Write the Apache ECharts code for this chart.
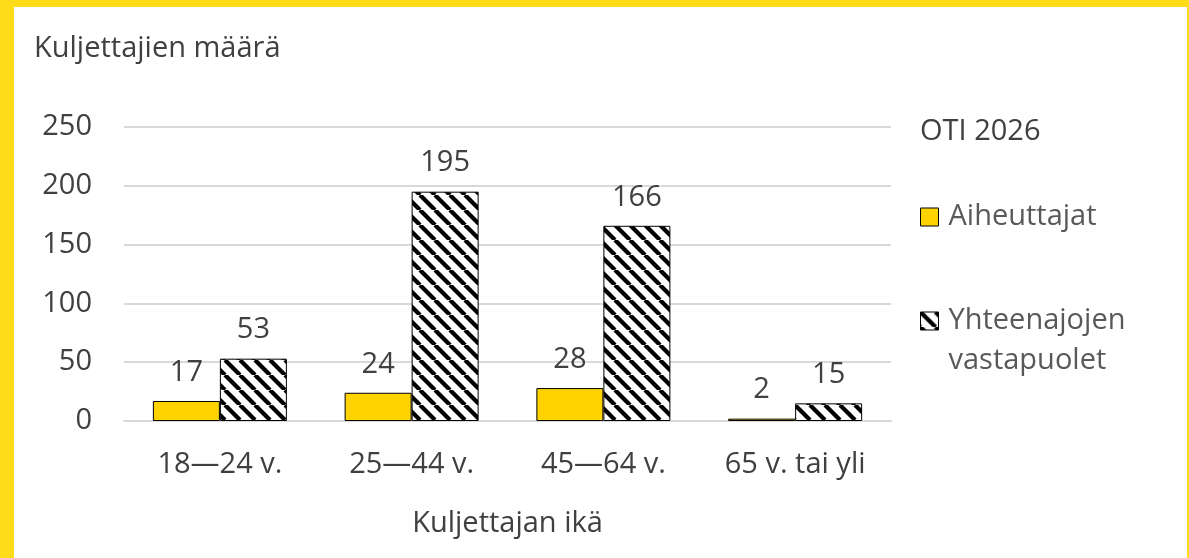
<!DOCTYPE html>
<html><head><meta charset="utf-8">
<script src="https://cdn.jsdelivr.net/npm/echarts@6/dist/echarts.min.js"></script>
<style>html,body{margin:0;padding:0;background:#fff;}#c{width:1189px;height:558px;}</style>
</head><body><div id="c"></div>
<script>
const categories = ['18—24 v.', '25—44 v.', '45—64 v.', '65 v. tai yli'];
const aiheuttajat = [17, 24, 28, 2];
const vastapuolet = [53, 195, 166, 15];
const yTicks = [0, 50, 100, 150, 200, 250];
const seriesNames = ['Aiheuttajat', 'Yhteenajojen vastapuolet'];

const FONT = '"Open Sans", "Noto Sans", sans-serif';
const TXT = '#404040';
const FS = 29;

function hatch() {
  const s = 15;
  const cv = document.createElement('canvas');
  cv.width = s; cv.height = s;
  const g = cv.getContext('2d');
  g.fillStyle = '#fff'; g.fillRect(0, 0, s, s);
  g.strokeStyle = '#000'; g.lineWidth = 4.2;
  for (const k of [-s, 0, s]) {
    g.beginPath(); g.moveTo(k, 0); g.lineTo(k + s, s); g.stroke();
  }
  return cv;
}

const chart = echarts.init(document.getElementById('c'));
chart.setOption({
  animation: false,
  backgroundColor: '#fff',
  textStyle: { fontFamily: FONT },
  graphic: [
    { type: 'rect', shape: { x: 0, y: 0, width: 14, height: 558 }, style: { fill: '#FEDC1A' } },
    { type: 'rect', shape: { x: 0, y: 0, width: 1189, height: 7 }, style: { fill: '#FEDC1A' } },
    { type: 'rect', shape: { x: 1187, y: 0, width: 2, height: 558 }, style: { fill: '#FEDC1A' } }
  ],
  title: [
    { text: 'Kuljettajien määrä', left: 34, top: 29, padding: 0,
      textStyle: { fontFamily: FONT, fontSize: FS, fontWeight: 'normal', color: TXT, lineHeight: 40 } },
    { text: 'OTI 2026', left: 920, top: 112, padding: 0,
      textStyle: { fontFamily: FONT, fontSize: FS, fontWeight: 'normal', color: TXT, lineHeight: 40 } }
  ],
  legend: [
    { data: [seriesNames[0]],
      left: 920, top: 197, padding: 0, itemWidth: 18, itemHeight: 18, icon: 'rect',
      itemStyle: { borderColor: '#000', borderWidth: 1 },
      textStyle: { fontFamily: FONT, fontSize: FS, color: '#595959', lineHeight: 40, padding: [0, 0, 0, 5] } },
    { data: [seriesNames[1]],
      formatter: () => '\nYhteenajojen\nvastapuolet',
      left: 920, top: 261, padding: 0, itemWidth: 18, itemHeight: 18, icon: 'rect',
      itemStyle: { borderColor: '#000', borderWidth: 1 },
      textStyle: { fontFamily: FONT, fontSize: FS, color: '#595959', lineHeight: 40, padding: [0, 0, 0, 5] } }
  ],
  grid: { left: 124, right: 298, top: 127, bottom: 137, containLabel: false },
  xAxis: {
    type: 'category', data: categories,
    name: 'Kuljettajan ikä', nameLocation: 'middle', nameGap: 88,
    nameTextStyle: { fontFamily: FONT, fontSize: FS, color: TXT },
    axisLine: { lineStyle: { color: '#d9d9d9', width: 2 } },
    axisTick: { show: false },
    axisLabel: { fontFamily: FONT, fontSize: FS, color: TXT, margin: 29 }
  },
  yAxis: {
    type: 'value', min: yTicks[0], max: yTicks[yTicks.length - 1], interval: yTicks[1] - yTicks[0],
    axisLine: { show: false }, axisTick: { show: false },
    splitLine: { lineStyle: { color: '#d9d9d9', width: 2 } },
    axisLabel: { fontFamily: FONT, fontSize: FS, color: TXT, margin: 32 }
  },
  series: [
    { name: seriesNames[0], type: 'bar', data: aiheuttajat, barWidth: 67, barGap: '0%',
      itemStyle: { color: '#FFD300', borderColor: '#000', borderWidth: 1 },
      label: { show: true, position: 'top', distance: 14, fontFamily: FONT, fontSize: FS, color: TXT } },
    { name: seriesNames[1], type: 'bar', data: vastapuolet, barWidth: 67,
      itemStyle: { color: { image: hatch(), repeat: 'repeat' }, borderColor: '#000', borderWidth: 1 },
      label: { show: true, position: 'top', distance: 14, fontFamily: FONT, fontSize: FS, color: TXT } }
  ]
});
</script></body></html>
